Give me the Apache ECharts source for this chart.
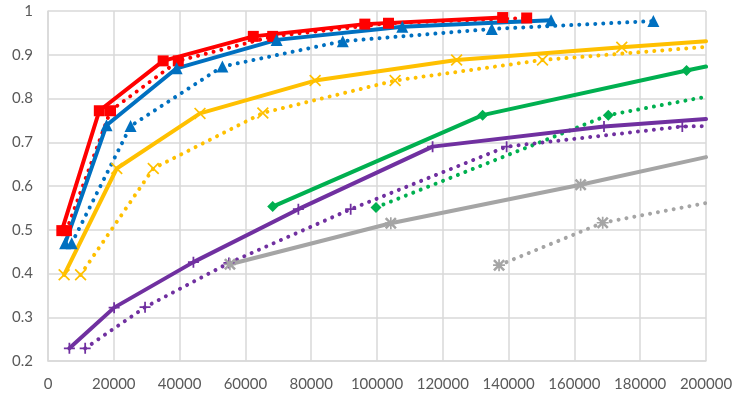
<!DOCTYPE html>
<html>
<head>
<meta charset="utf-8">
<script src="https://cdn.jsdelivr.net/npm/echarts@6/dist/echarts.min.js"></script>
<style>
  html, body { margin: 0; padding: 0; background: #fff; }
  #chart { width: 744px; height: 398px; }
</style>
</head>
<body>
<div id="chart"></div>
<script>
// x ticks and y ticks
const xTicks = [0, 20000, 40000, 60000, 80000, 100000, 120000, 140000, 160000, 180000, 200000]
const yTicks = [0.2, 0.3, 0.4, 0.5, 0.6, 0.7, 0.8, 0.9, 1]

// [x, y]; solid = first run, dotted = second run
const redSolid = [[4200, 0.498], [15600, 0.772], [35000, 0.886], [62400, 0.942], [96300, 0.970], [138200, 0.985]]
const redDotted = [[5600, 0.498], [19000, 0.772], [39600, 0.886], [68300, 0.942], [103500, 0.972], [145500, 0.984]]
const blueSolid = [[5200, 0.469], [17800, 0.739], [39100, 0.869], [69500, 0.934], [107700, 0.964], [152900, 0.979]]
const blueDotted = [[7200, 0.469], [25100, 0.737], [53000, 0.873], [89600, 0.931], [134900, 0.959], [184000, 0.977]]
const orangeSolid = [[4900, 0.397], [20900, 0.640], [46200, 0.766], [81200, 0.841], [124200, 0.888], [174400, 0.917]]
const orangeDotted = [[9900, 0.397], [32000, 0.640], [65300, 0.767], [105500, 0.841], [150300, 0.888]]
const greenSolid = [[68300, 0.553], [132100, 0.762], [194100, 0.864]]
const greenDotted = [[99700, 0.551], [170300, 0.762]]
const purpleSolid = [[6500, 0.229], [20100, 0.322], [44200, 0.426], [76100, 0.547], [116900, 0.690], [169000, 0.736]]
const purpleDotted = [[11300, 0.229], [29500, 0.323], [55000, 0.424], [92000, 0.547], [139400, 0.690], [192800, 0.736]]
const graySolid = [[55300, 0.421], [104200, 0.515], [161900, 0.603]]
const grayDotted = [[137100, 0.419], [168600, 0.516]]

// where each line meets the right edge (no marker there)
const orangeSolidEnd = [200000, 0.931]
const orangeDottedEnd = [200000, 0.918]
const greenSolidEnd = [200000, 0.873]
const greenDottedEnd = [200000, 0.804]
const purpleSolidEnd = [200000, 0.753]
const purpleDottedEnd = [200000, 0.737]
const graySolidEnd = [200000, 0.666]
const grayDottedEnd = [200000, 0.561]

const xMark = 'path://M0,1 L1,0 L5,4 L9,0 L10,1 L6,5 L10,9 L9,10 L5,6 L1,10 L0,9 L4,5 Z'
const plusMark = 'path://M4.2,0 H5.8 V4.2 H10 V5.8 H5.8 V10 H4.2 V5.8 H0 V4.2 H4.2 Z'
const starMark = 'path://M0,1.5 L1.5,0 L5,3.5 L8.5,0 L10,1.5 L6.5,5 L10,8.5 L8.5,10 L5,6.5 L1.5,10 L0,8.5 L3.5,5 Z M4.3,0 H5.7 V4.3 H10 V5.7 H5.7 V10 H4.3 V5.7 H0 V4.3 H4.3 Z'

const makeSeries = (data, end, color, dotted, symbol, size) => {
  const points = data.map(p => ({ value: p }))
  if (end) points.push({ value: end, symbol: 'none' })
  return {
    type: 'line',
    data: points,
    symbol,
    symbolSize: size,
    showAllSymbol: true,
    clip: true,
    itemStyle: { color, borderWidth: 0 },
    lineStyle: dotted
      ? { color, width: 4, type: [0.01, 8], cap: 'round' }
      : { color, width: 4, cap: 'round', join: 'round' },
    emphasis: { disabled: true },
  }
}

const chart = echarts.init(document.getElementById('chart'), null, { renderer: 'canvas' })

const axisText = { color: '#595959', fontSize: 15, fontFamily: 'Lato, "Open Sans", sans-serif' }
const gridLine = { lineStyle: { color: '#d9d9d9', width: 1.5 } }

chart.setOption({
  animation: false,
  grid: { left: 48, right: 38, top: 11, bottom: 37 },
  xAxis: {
    type: 'value',
    min: xTicks[0],
    max: xTicks[xTicks.length - 1],
    interval: xTicks[1] - xTicks[0],
    axisLine: { show: true, lineStyle: { color: '#d9d9d9', width: 1.5 } },
    axisTick: { show: false },
    splitLine: { show: true, ...gridLine },
    axisLabel: { ...axisText, margin: 16, formatter: v => String(v) },
  },
  yAxis: {
    type: 'value',
    min: yTicks[0],
    max: yTicks[yTicks.length - 1],
    interval: 0.1,
    axisLine: { show: true, lineStyle: { color: '#d9d9d9', width: 1.5 } },
    axisTick: { show: false },
    splitLine: { show: true, ...gridLine },
    axisLabel: { ...axisText, margin: 15, formatter: v => String(+v.toFixed(1)) },
  },
  series: [
    makeSeries(redSolid, null, '#ff0000', false, 'rect', 11),
    makeSeries(redDotted, null, '#ff0000', true, 'rect', 11),
    makeSeries(blueSolid, null, '#0070c0', false, 'triangle', 12),
    makeSeries(blueDotted, null, '#0070c0', true, 'triangle', 12),
    makeSeries(orangeSolid, orangeSolidEnd, '#ffc000', false, xMark, 12),
    makeSeries(orangeDotted, orangeDottedEnd, '#ffc000', true, xMark, 12),
    makeSeries(greenSolid, greenSolidEnd, '#00b050', false, 'diamond', 11),
    makeSeries(greenDotted, greenDottedEnd, '#00b050', true, 'diamond', 11),
    makeSeries(purpleSolid, purpleSolidEnd, '#7030a0', false, plusMark, 11),
    makeSeries(purpleDotted, purpleDottedEnd, '#7030a0', true, plusMark, 11),
    makeSeries(graySolid, graySolidEnd, '#a5a5a5', false, starMark, 12),
    makeSeries(grayDotted, grayDottedEnd, '#a5a5a5', true, starMark, 12),
  ],
})
</script>
</body>
</html>
